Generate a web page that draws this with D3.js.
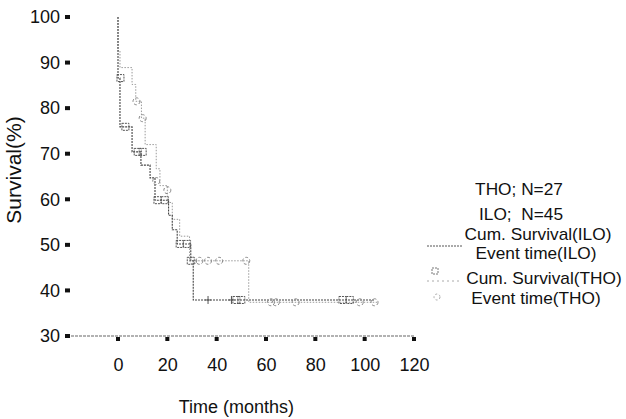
<!DOCTYPE html>
<html>
<head>
<meta charset="utf-8">
<script src="https://cdn.jsdelivr.net/npm/d3@7"></script>
<style>
  body { margin: 0; background: #fff; }
  svg { display: block; font-family: "Liberation Sans", Arial, sans-serif; }
  text.leg { white-space: pre; }
</style>
</head>
<body>
<svg id="chart" width="626" height="419"></svg>
<script>
// values
var xTicks = [0, 20, 40, 60, 80, 100, 120];
var yTicks = [30, 40, 50, 60, 70, 80, 90, 100];

// ILO step curve: [months, survival %]
var iloSteps = [[0, 100], [0, 86.6], [0.8, 75.9], [5.7, 70.4], [9.3, 67.5], [13, 64.7],
  [15, 59.8], [20.5, 56.5], [22, 53.3], [24, 50.2], [29.5, 46.5], [30.5, 37.9]];
var iloEnd = 104;
var iloCensor = [[1, 86.6], [3, 75.9], [8, 70.4], [10, 70.4], [16, 59.8], [19, 59.8],
  [25, 50.2], [28, 50.2], [29.5, 46.5], [48, 37.9], [50, 37.9], [91, 37.9], [94, 37.9]];
var iloPlus = [[36.5, 37.9], [46, 37.9]];

// THO step curve
var thoSteps = [[0, 100], [0, 92.6], [0.8, 88.9], [5.7, 85.2], [7.2, 81.5], [9.5, 77.8],
  [11, 72], [15.5, 66.7], [17, 63], [20, 59.3], [22, 55.6], [25, 51.9], [29, 46.5], [53, 37.4]];
var thoEnd = 105;
var thoCensor = [[7.5, 81.5], [10, 77.8], [15.5, 64], [20, 62], [30.5, 46.5], [33, 46.5],
  [36.5, 46.5], [41, 46.5], [52, 46.5], [62, 37.4], [64, 37.4], [72, 37.4], [98, 37.4], [104, 37.4]];

var legendLabels = ["THO; N=27", "ILO;  N=45", "Cum. Survival(ILO)", "Event time(ILO)",
  "Cum. Survival(THO)", "Event time(THO)"];

var svg = d3.select("#chart");
var x = d3.scaleLinear().domain([0, 120]).range([118, 414]);
var y = d3.scaleLinear().domain([30, 100]).range([336, 17]);
var axisX0 = 67;

function stepPath(steps, end) {
  var pts = [];
  steps.forEach(function(d, i) {
    if (i > 0) pts.push([d[0], steps[i - 1][1]]);
    pts.push(d);
  });
  pts.push([end, steps[steps.length - 1][1]]);
  return d3.line().x(function(d) { return x(d[0]); }).y(function(d) { return y(d[1]); })(pts);
}

// x axis baseline
svg.append("line")
  .attr("x1", axisX0).attr("x2", x(120))
  .attr("y1", y(30)).attr("y2", y(30))
  .attr("stroke", "#666").attr("stroke-width", 1.2)
  .attr("stroke-dasharray", "3,1");

var gx = svg.append("g")
  .attr("transform", "translate(0," + y(30) + ")")
  .call(d3.axisBottom(x).tickValues(xTicks).tickSize(0).tickPadding(22));
gx.select(".domain").remove();
gx.selectAll("text").attr("font-size", 18).attr("fill", "#111")
  .attr("font-family", "'Liberation Sans', Arial, sans-serif");
svg.selectAll("rect.xt").data(xTicks).enter().append("rect")
  .attr("class", "xt")
  .attr("x", function(d) { return x(d) - 2; })
  .attr("y", y(30) + 1)
  .attr("width", 4).attr("height", 4)
  .attr("fill", "#111");

var gy = svg.append("g")
  .attr("transform", "translate(" + axisX0 + ",0)")
  .call(d3.axisLeft(y).tickValues(yTicks).tickSize(0).tickPadding(7));
gy.select(".domain").remove();
gy.selectAll("text").attr("font-size", 18).attr("fill", "#111")
  .attr("font-family", "'Liberation Sans', Arial, sans-serif");
svg.selectAll("rect.yt").data(yTicks).enter().append("rect")
  .attr("class", "yt")
  .attr("x", axisX0 - 2)
  .attr("y", function(d) { return y(d) - 2; })
  .attr("width", 5).attr("height", 4)
  .attr("fill", "#111");

// axis titles
svg.append("text")
  .attr("x", x(48)).attr("y", 413)
  .attr("text-anchor", "middle")
  .attr("font-size", 18).attr("fill", "#111")
  .text("Time (months)");
svg.append("text")
  .attr("transform", "translate(21,170) rotate(-90)")
  .attr("text-anchor", "middle")
  .attr("font-size", 21).attr("fill", "#111")
  .text("Survival(%)");

// curves
svg.append("path")
  .attr("d", stepPath(thoSteps, thoEnd))
  .attr("fill", "none").attr("stroke", "#9a9a9a").attr("stroke-width", 1)
  .attr("stroke-dasharray", "1.5,1.5");
svg.append("path")
  .attr("d", stepPath(iloSteps, iloEnd))
  .attr("fill", "none").attr("stroke", "#444").attr("stroke-width", 1.1)
  .attr("stroke-dasharray", "2,1");

// censor marks
svg.selectAll("rect.ilo").data(iloCensor).enter().append("rect")
  .attr("class", "ilo")
  .attr("x", function(d) { return x(d[0]) - 3.5; })
  .attr("y", function(d) { return y(d[1]) - 3.5; })
  .attr("width", 7).attr("height", 7)
  .attr("fill", "none").attr("stroke", "#555").attr("stroke-width", 1)
  .attr("stroke-dasharray", "2,1");
svg.selectAll("path.iloplus").data(iloPlus).enter().append("path")
  .attr("class", "iloplus")
  .attr("d", function(d) {
    var cx = x(d[0]), cy = y(d[1]);
    return "M" + (cx - 3) + "," + cy + "H" + (cx + 3) + "M" + cx + "," + (cy - 4) + "V" + (cy + 4);
  })
  .attr("stroke", "#555").attr("stroke-width", 1);
svg.selectAll("circle.tho").data(thoCensor).enter().append("circle")
  .attr("class", "tho")
  .attr("cx", function(d) { return x(d[0]); })
  .attr("cy", function(d) { return y(d[1]); })
  .attr("r", 3.5)
  .attr("fill", "none").attr("stroke", "#888").attr("stroke-width", 1)
  .attr("stroke-dasharray", "3,2");

// legend
var legY = [195, 220, 240, 259, 284, 304];
var legX = [519, 521, 538, 536, 544, 536];
svg.selectAll("text.leg").data(legendLabels).enter().append("text")
  .attr("class", "leg")
  .attr("transform", function(d, i) { return "translate(" + legX[i] + "," + legY[i] + ") scale(1.08,1)"; })
  .attr("text-anchor", "middle")
  .attr("font-size", 16).attr("fill", "#111")
  .text(function(d) { return d; });
svg.append("line")
  .attr("x1", 427).attr("x2", 462).attr("y1", 246).attr("y2", 246)
  .attr("stroke", "#555").attr("stroke-dasharray", "2,1");
svg.append("rect")
  .attr("x", 432).attr("y", 268).attr("width", 6).attr("height", 6)
  .attr("fill", "none").attr("stroke", "#777").attr("stroke-dasharray", "2,1");
svg.append("line")
  .attr("x1", 427).attr("x2", 460).attr("y1", 281).attr("y2", 281)
  .attr("stroke", "#aaa").attr("stroke-dasharray", "2,3");
svg.append("circle")
  .attr("cx", 437).attr("cy", 297).attr("r", 3)
  .attr("fill", "none").attr("stroke", "#aaa").attr("stroke-dasharray", "2,2");
</script>
</body>
</html>
